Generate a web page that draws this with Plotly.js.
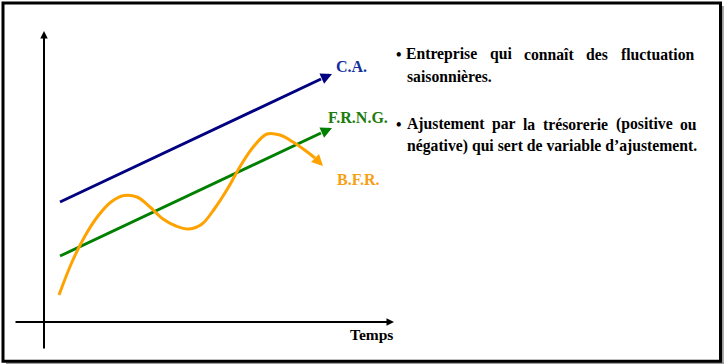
<!DOCTYPE html>
<html>
<head>
<meta charset="utf-8">
<script src="https://cdn.plot.ly/plotly-3.0.1.min.js"></script>
<style>html,body{margin:0;padding:0;background:#fff;}#chart{width:724px;height:364px;}</style>
</head>
<body>
<div id="chart"></div>
<script>
// ---- Data (schematic units: time on x, amount on y) ----
const caX   = [1.6, 27.7];
const caY   = [12.0, 24.3];
const caTip = [28.8, 24.8];

const frngX   = [1.6, 27.7];
const frngY   = [6.6, 18.9];
const frngTip = [28.8, 19.4];

const bfrX = [1.5, 2.8, 4.1, 5.4, 6.7, 8.0, 9.3, 10.6, 11.9, 13.2, 14.5, 15.8, 17.1, 18.4, 19.7, 21.0, 22.3, 23.6, 24.9, 26.2, 27.1];
const bfrY = [2.7, 6.0, 8.6, 10.6, 12.0, 12.65, 12.5, 11.5, 10.3, 9.6, 9.3, 9.8, 11.4, 13.4, 15.7, 17.6, 18.8, 18.7, 18.0, 17.1, 16.4];
const bfrTip = [27.9, 15.6];

const yAxisLine = {from: [0, -2.8], to: [0, 29.1]};
const xAxisLine = {from: [-3.0, 0], to: [35.0, 0]};

const seriesNames = ["C.A.", "F.R.N.G.", "B.F.R."];
const xAxisLabel = "Temps";

const bullet1Line1 = ["Entreprise", "qui", "connaît", "des", "fluctuation"];
const bullet1Line2 = "saisonnières.";
const bullet2Line1 = ["Ajustement", "par", "la", "trésorerie", "(positive", "ou"];
const bullet2Line2 = "négative) qui sert de variable d’ajustement.";

// ---- Layout helpers ----
const W = 724, H = 364;
const px = x => x / W;
const py = y => 1 - y / H;
const FONT = 'Liberation Serif, serif';
const TXT = 15.7;
const NAVY = '#000080', GREEN = '#008000', ORANGE = '#FFA200';

const traces = [
  {x: caX, y: caY, mode: 'lines', line: {color: NAVY, width: 3}, hoverinfo: 'skip', name: seriesNames[0]},
  {x: frngX, y: frngY, mode: 'lines', line: {color: GREEN, width: 3}, hoverinfo: 'skip', name: seriesNames[1]},
  {x: bfrX, y: bfrY, mode: 'lines', line: {color: ORANGE, width: 3, shape: 'spline', smoothing: 1}, hoverinfo: 'skip', name: seriesNames[2]}
];

function arrow(tail, tip, color, width, size) {
  return {x: tip[0], y: tip[1], ax: tail[0], ay: tail[1], xref: 'x', yref: 'y', axref: 'x', ayref: 'y',
          showarrow: true, arrowhead: 2, arrowsize: size, arrowwidth: width, arrowcolor: color, text: '', standoff: 0};
}
function label(text, x, y, color, size, anchor) {
  return {text: '<b>' + text + '</b>', x: px(x), y: py(y), xref: 'paper', yref: 'paper', showarrow: false,
          xanchor: anchor || 'left', yanchor: 'middle', font: {family: FONT, size: size || 16, color: color || '#000'}};
}

const annotations = [
  arrow(yAxisLine.from, yAxisLine.to, '#000', 2, 0.75),
  arrow(xAxisLine.from, xAxisLine.to, '#000', 2, 0.75),
  arrow([caX[caX.length-1], caY[caY.length-1]], caTip, NAVY, 3, 0.75),
  arrow([frngX[frngX.length-1], frngY[frngY.length-1]], frngTip, GREEN, 3, 0.75),
  arrow([bfrX[bfrX.length-1], bfrY[bfrY.length-1]], bfrTip, ORANGE, 3, 0.75),
  label(seriesNames[0], 334, 66, '#112f9a'),
  label(seriesNames[1], 326, 118, '#217a0c'),
  label(seriesNames[2], 335, 179, '#f7a015'),
  label(xAxisLabel, 348, 334, '#000', 15.5)
];

// justified lines: measure word widths and spread them between left and right edges
const ctx = document.createElement('canvas').getContext('2d');
ctx.font = 'bold ' + TXT + 'px "Liberation Serif", serif';
function justify(words, left, right, y) {
  const widths = words.map(w => ctx.measureText(w).width);
  const total = widths.reduce((a, b) => a + b, 0);
  const gap = (right - left - total) / (words.length - 1);
  let x = left;
  words.forEach((w, i) => { annotations.push(label(w, x, y, '#000', TXT)); x += widths[i] + gap; });
}
annotations.push(label('•', 394, 54, '#000', TXT));
justify(bullet1Line1, 404, 692, 54);
annotations.push(label(bullet1Line2, 405, 76, '#000', TXT));
annotations.push(label('•', 394, 124, '#000', TXT));
justify(bullet2Line1, 405, 695, 124);
annotations.push(label(bullet2Line2, 405, 146, '#000', TXT));

const shapes = [
  {type: 'line', xref: 'paper', yref: 'paper', x0: px(722.8), x1: px(722.8), y0: py(6), y1: py(364), line: {color: '#9a9a9a', width: 2}},
  {type: 'line', xref: 'paper', yref: 'paper', x0: px(6), x1: px(724), y0: py(363), y1: py(363), line: {color: '#9a9a9a', width: 2}},
  {type: 'rect', xref: 'paper', yref: 'paper', x0: px(3), x1: px(720.5), y0: py(3), y1: py(361.3), line: {color: '#000', width: 3}}
];

const layout = {
  width: W, height: H,
  margin: {l: 0, r: 0, t: 0, b: 0, pad: 0},
  paper_bgcolor: '#fff', plot_bgcolor: '#fff',
  showlegend: false,
  xaxis: {range: [-4.4, 68.0], visible: false, fixedrange: true},
  yaxis: {range: [-4.2, 32.2], visible: false, fixedrange: true},
  annotations: annotations,
  shapes: shapes
};

Plotly.newPlot('chart', traces, layout, {staticPlot: true, displayModeBar: false});
</script>
</body>
</html>
